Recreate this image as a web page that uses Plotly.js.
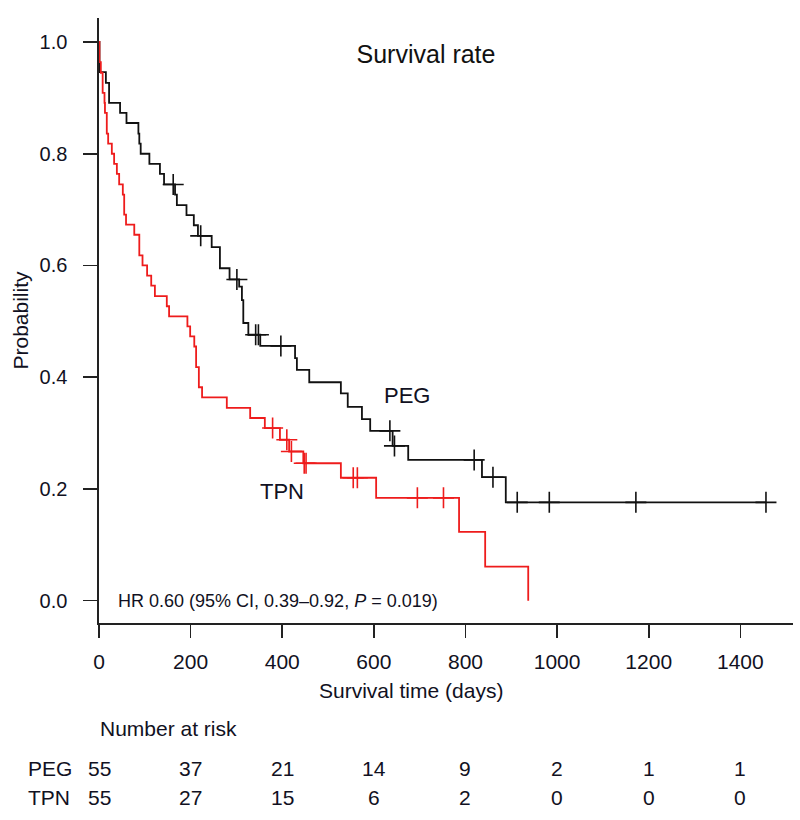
<!DOCTYPE html>
<html>
<head>
<meta charset="utf-8">
<script src="https://cdn.plot.ly/plotly-3.0.1.min.js"></script>
<style>html,body{margin:0;padding:0;background:#fff;}#chart{width:800px;height:820px;}</style>
</head>
<body>
<div id="chart"></div>
<script>
// ---- Data ----
// PEG group: Kaplan-Meier step points (time in days, survival probability)
var pegTimes = [0, 1, 15, 22, 46, 60, 86, 88, 91, 110, 133, 142, 166, 170, 191, 207, 216, 246, 264, 285, 306, 312, 315, 326, 352, 428, 432, 459, 528, 543, 574, 592, 641, 675, 836, 888, 1456];
var pegSurv  = [1.0, 0.946, 0.927, 0.891, 0.873, 0.855, 0.836, 0.818, 0.800, 0.782, 0.764, 0.745, 0.727, 0.708, 0.690, 0.672, 0.653, 0.633, 0.595, 0.575, 0.562, 0.538, 0.497, 0.476, 0.456, 0.434, 0.413, 0.391, 0.371, 0.347, 0.325, 0.304, 0.277, 0.252, 0.221, 0.176, 0.176];
// PEG censored observations
var pegCensTimes = [162, 222, 301, 342, 348, 397, 635, 645, 819, 860, 913, 983, 1172, 1456];
var pegCensSurv  = [0.745, 0.653, 0.575, 0.476, 0.476, 0.456, 0.304, 0.277, 0.252, 0.221, 0.176, 0.176, 0.176, 0.176];

// TPN group
var tpnTimes = [0, 1, 4, 8, 12, 13, 17, 20, 28, 33, 39, 44, 52, 55, 59, 77, 88, 95, 105, 114, 122, 148, 153, 193, 199, 208, 212, 218, 225, 279, 330, 362, 395, 415, 446, 528, 605, 786, 843, 937];
var tpnSurv  = [1.0, 0.964, 0.945, 0.909, 0.891, 0.873, 0.836, 0.818, 0.800, 0.782, 0.764, 0.745, 0.727, 0.691, 0.673, 0.655, 0.618, 0.600, 0.582, 0.564, 0.545, 0.527, 0.509, 0.491, 0.473, 0.455, 0.418, 0.382, 0.364, 0.345, 0.327, 0.309, 0.288, 0.267, 0.246, 0.220, 0.184, 0.123, 0.061, 0.0];
var tpnCensTimes = [379, 410, 420, 448, 452, 555, 564, 695, 752];
var tpnCensSurv  = [0.309, 0.288, 0.267, 0.246, 0.246, 0.220, 0.220, 0.184, 0.184];

// Number at risk table
var riskTimes = [0, 200, 400, 600, 800, 1000, 1200, 1400];
var riskPEG = [55, 37, 21, 14, 9, 2, 1, 1];
var riskTPN = [55, 27, 15, 6, 2, 0, 0, 0];

var yTicks = [0.0, 0.2, 0.4, 0.6, 0.8, 1.0];
var yTickText = ["0.0", "0.2", "0.4", "0.6", "0.8", "1.0"];

// ---- Plot ----
var FONT = "Liberation Sans, Arial, sans-serif";
var TXT = "#111122";
var RED = "#ee1c1c";

var traces = [
  {x: pegTimes, y: pegSurv, mode: "lines", line: {shape: "hv", color: "#111111", width: 1.8}, name: "PEG", hoverinfo: "x+y"},
  {x: tpnTimes, y: tpnSurv, mode: "lines", line: {shape: "hv", color: RED, width: 1.8}, name: "TPN", hoverinfo: "x+y"},
  {x: pegCensTimes, y: pegCensSurv, mode: "markers", marker: {symbol: "cross-thin", size: 15, line: {color: "#111111", width: 1.6}}, name: "PEG censored"},
  {x: tpnCensTimes, y: tpnCensSurv, mode: "markers", marker: {symbol: "cross-thin", size: 15, line: {color: RED, width: 1.6}}, name: "TPN censored"}
];

function py(p) { return (623 - p) / 605; }   // pixel row -> paper y
function px(p) { return (p - 99) / 694; }    // pixel column -> paper x

var ann = [];
// in-plot labels
ann.push({x: 672, y: 0.368, xref: "x", yref: "y", xanchor: "center", yanchor: "middle", text: "PEG", showarrow: false, font: {family: FONT, size: 22, color: TXT}});
ann.push({x: 400, y: 0.195, xref: "x", yref: "y", xanchor: "center", yanchor: "middle", text: "TPN", showarrow: false, font: {family: FONT, size: 22, color: TXT}});
ann.push({x: 37, y: 0.0, xref: "x", yref: "y", xanchor: "left", yanchor: "middle", text: "HR 0.60 (95% CI, 0.39\u20130.92, <i>P</i> = 0.019)", showarrow: false, font: {family: FONT, size: 18, color: TXT}});
// x-axis title (centred as in the reference)
ann.push({x: px(411), y: py(690), xref: "paper", yref: "paper", xanchor: "center", yanchor: "middle", text: "Survival time (days)", showarrow: false, font: {family: FONT, size: 21, color: TXT}});
// number at risk
ann.push({x: px(98), y: py(728), xref: "paper", yref: "paper", xanchor: "left", yanchor: "middle", text: "Number at risk", showarrow: false, font: {family: FONT, size: 21, color: TXT}});
ann.push({x: px(26), y: py(768), xref: "paper", yref: "paper", xanchor: "left", yanchor: "middle", text: "PEG", showarrow: false, font: {family: FONT, size: 21, color: TXT}});
ann.push({x: px(26), y: py(797), xref: "paper", yref: "paper", xanchor: "left", yanchor: "middle", text: "TPN", showarrow: false, font: {family: FONT, size: 21, color: TXT}});
for (var i = 0; i < riskTimes.length; i++) {
  ann.push({x: riskTimes[i], y: py(768), xref: "x", yref: "paper", xanchor: "center", yanchor: "middle", text: String(riskPEG[i]), showarrow: false, font: {family: FONT, size: 21, color: TXT}});
  ann.push({x: riskTimes[i], y: py(797), xref: "x", yref: "paper", xanchor: "center", yanchor: "middle", text: String(riskTPN[i]), showarrow: false, font: {family: FONT, size: 21, color: TXT}});
}

var layout = {
  width: 800, height: 820,
  margin: {l: 99, r: 7, t: 18, b: 197, pad: 0},
  paper_bgcolor: "#ffffff", plot_bgcolor: "#ffffff",
  showlegend: false,
  font: {family: FONT, color: TXT},
  title: {text: "Survival rate", x: 426 / 800, xref: "container", xanchor: "center", y: 1 - 54 / 820, yref: "container", yanchor: "middle", font: {family: FONT, size: 25, color: "#111111"}},
  xaxis: {
    range: [0, 1515], showgrid: false, zeroline: false,
    showline: true, linecolor: "#222222", linewidth: 1.6,
    ticks: "outside", ticklen: 13, tickwidth: 1.6, tickcolor: "#222222",
    tickvals: riskTimes, ticktext: riskTimes.map(String),
    tickfont: {family: FONT, size: 21, color: TXT}, ticklabelstandoff: 6
  },
  yaxis: {
    range: [-0.04, 1.043], showgrid: false, zeroline: false,
    showline: true, linecolor: "#222222", linewidth: 1.6,
    ticks: "outside", ticklen: 14, tickwidth: 1.6, tickcolor: "#222222",
    tickvals: yTicks, ticktext: yTickText,
    tickfont: {family: FONT, size: 20, color: TXT}, ticklabelstandoff: 12,
    title: {text: "Probability", font: {family: FONT, size: 21, color: TXT}, standoff: 5}
  },
  annotations: ann
};

Plotly.newPlot("chart", traces, layout, {staticPlot: true});
</script>
</body>
</html>
